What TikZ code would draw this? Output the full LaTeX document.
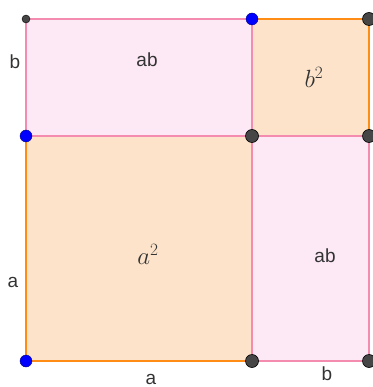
\documentclass[tikz,border=0pt]{standalone}
\usepackage{fontspec}
\setsansfont{Liberation Sans}
\definecolor{pinkfill}{RGB}{253,232,245}
\definecolor{orangefill}{RGB}{252,227,202}
\definecolor{pinkline}{RGB}{243,140,175}
\definecolor{orangeline}{RGB}{255,140,20}
\definecolor{ptgray}{RGB}{70,70,70}
\tikzset{
  pinkrect/.style={fill=pinkfill,draw=pinkline,line width=1.2pt},
  orangerect/.style={fill=orangefill,draw=orangeline,line width=1.8pt},
  bluept/.style={circle,fill=blue,draw=blue!50!black,line width=0.4pt,inner sep=0pt,minimum size=12pt},
  graypt/.style={circle,fill=ptgray,draw=black,line width=0.6pt,inner sep=0pt,minimum size=13pt},
  smallpt/.style={circle,fill=ptgray,draw=black,line width=0.4pt,inner sep=0pt,minimum size=8pt},
  lbl/.style={font=\sffamily\fontsize{19}{22}\selectfont,text=black!80},
  mlbl/.style={font=\fontsize{24}{27}\selectfont,text=black!80}
}
\begin{document}
\begin{tikzpicture}[x=1pt,y=-1pt]
\useasboundingbox (0,0) rectangle (372,387);
\coordinate (P1) at (26,19);
\coordinate (P2) at (252,19);
\coordinate (P3) at (369,19);
\coordinate (P4) at (26,136);
\coordinate (P5) at (252,136);
\coordinate (P6) at (369,136);
\coordinate (P7) at (26,361);
\coordinate (P8) at (252,361);
\coordinate (P9) at (369,361);
% orange squares
\draw[orangerect] (P4) rectangle (P8);
\draw[orangerect] (P2) rectangle (P6);
% pink rectangles
\draw[pinkrect] (P1) rectangle (P5);
\draw[pinkrect] (P5) rectangle (P9);
% labels
\node[lbl] (lb1) at (15,62) {b};
\node[lbl] (lab1) at (147,60) {ab};
\node[mlbl] (lb2) at (314,77) {$b^2$};
\node[mlbl] (la2) at (148,254) {$a^2$};
\node[lbl] (lab2) at (325,256) {ab};
\node[lbl] (la1) at (13,282) {a};
\node[lbl] (la3) at (151,379) {a};
\node[lbl] (lb3) at (327,374) {b};
% points
\node[smallpt] (n1) at (P1) {};
\node[bluept] (n2) at (P2) {};
\node[graypt] (n3) at (P3) {};
\node[bluept] (n4) at (P4) {};
\node[graypt] (n5) at (P5) {};
\node[graypt] (n6) at (P6) {};
\node[bluept] (n7) at (P7) {};
\node[graypt] (n8) at (P8) {};
\node[graypt] (n9) at (P9) {};
\end{tikzpicture}
\end{document}
